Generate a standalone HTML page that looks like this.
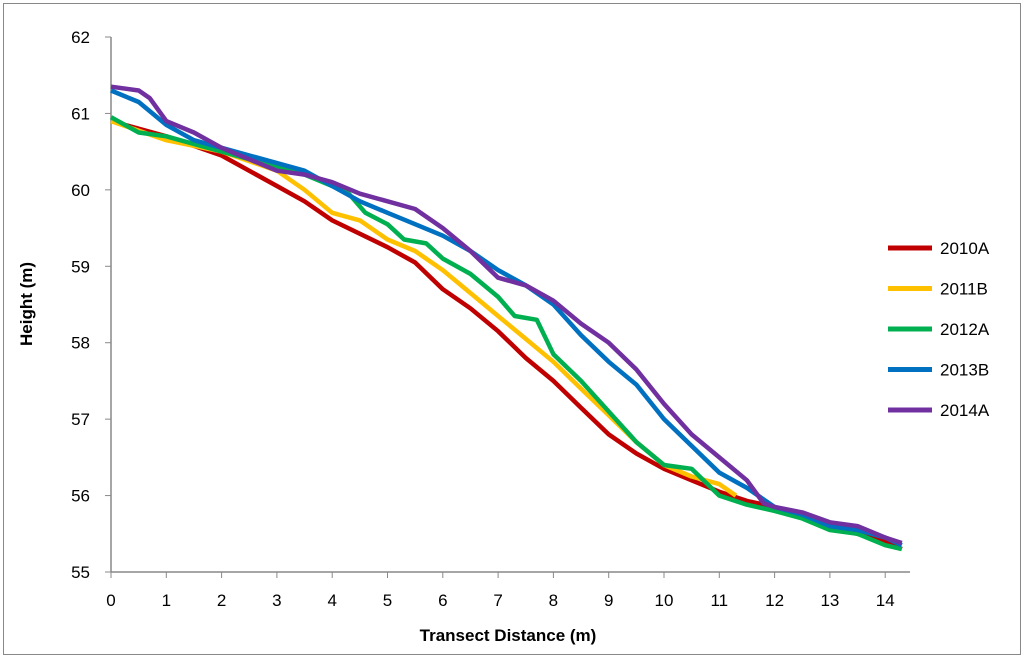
<!DOCTYPE html>
<html><head><meta charset="utf-8"><style>
body{margin:0;background:#fff;font-family:"Liberation Sans",sans-serif}
svg text{font-family:"Liberation Sans",sans-serif}
</style></head><body>
<svg id="chart" width="1024" height="658">
<rect x="3.5" y="3.5" width="1017" height="651" fill="#fff" stroke="#888"/>
<g id="axes"></g><g id="series"></g><g id="legend"></g>
</svg>
<script>
const xTicks=[0,1,2,3,4,5,6,7,8,9,10,11,12,13,14];
const yTicks=[55,56,57,58,59,60,61,62];
const seriesNames=["2010A","2011B","2012A","2013B","2014A"];
const seriesColors=["#c00000","#ffc000","#00b050","#0070c0","#7030a0"];
const x2010A=[0,1,2,3,3.5,4,5,5.5,6,6.5,7,7.5,8,8.5,9,9.5,10,10.5,11,11.5,12,12.5,13,13.5,14,14.3];
const y2010A=[60.9,60.7,60.45,60.05,59.85,59.6,59.25,59.05,58.7,58.45,58.15,57.8,57.5,57.15,56.8,56.55,56.35,56.2,56.05,55.93,55.85,55.75,55.6,55.5,55.4,55.3];
const x2011B=[0,1,2,3,3.5,4,4.5,5,5.5,6,6.5,7,7.5,8,8.5,9,9.5,10,10.5,11,11.3];
const y2011B=[60.9,60.65,60.5,60.25,60.0,59.7,59.6,59.35,59.2,58.95,58.65,58.35,58.05,57.75,57.4,57.05,56.7,56.4,56.25,56.15,56.0];
const x2012A=[0,0.5,1,1.5,2,3,3.5,4,4.3,4.6,5,5.3,5.7,6,6.5,7,7.3,7.7,8,8.5,9,9.5,10,10.5,11,11.5,12,12.5,13,13.5,14,14.3];
const y2012A=[60.95,60.75,60.7,60.6,60.5,60.3,60.2,60.05,59.95,59.7,59.55,59.35,59.3,59.1,58.9,58.6,58.35,58.3,57.85,57.5,57.1,56.7,56.4,56.35,56.0,55.88,55.8,55.7,55.55,55.5,55.35,55.3];
const x2013B=[0,0.5,1,1.5,2,3,3.5,4,4.5,5,5.5,6,6.5,7,7.5,8,8.5,9,9.5,10,10.5,11,11.5,12,12.5,13,13.5,14,14.3];
const y2013B=[61.3,61.15,60.85,60.65,60.55,60.35,60.25,60.05,59.85,59.7,59.55,59.4,59.2,58.95,58.75,58.5,58.1,57.75,57.45,57.0,56.65,56.3,56.1,55.85,55.75,55.6,55.55,55.45,55.35];
const x2014A=[0,0.5,0.7,1,1.5,2,2.5,3,3.5,4,4.5,5,5.5,6,6.5,7,7.5,8,8.5,9,9.5,10,10.5,11,11.5,11.8,12,12.5,13,13.5,14,14.3];
const y2014A=[61.35,61.3,61.2,60.9,60.75,60.55,60.4,60.25,60.2,60.1,59.95,59.85,59.75,59.5,59.2,58.85,58.75,58.55,58.25,58.0,57.65,57.2,56.8,56.5,56.2,55.9,55.85,55.78,55.65,55.6,55.45,55.38];
const xs=[x2010A,x2011B,x2012A,x2013B,x2014A], ys=[y2010A,y2011B,y2012A,y2013B,y2014A];
const NS="http://www.w3.org/2000/svg";
const X=v=>111+v*55.3, Y=v=>572-(v-55)*76.43;
function mk(t,a,p){const e=document.createElementNS(NS,t);for(const k in a)e.setAttribute(k,a[k]);p.appendChild(e);return e;}
const ax=document.getElementById('axes');
let l=mk('line',{x1:111,y1:37,x2:111,y2:572,stroke:'#888','stroke-width':1.5},ax);


l=mk('line',{x1:111,y1:572,x2:910,y2:572,stroke:'#888','stroke-width':1.5},ax);


yTicks.forEach(v=>{mk('line',{x1:105,x2:111,y1:Y(v),y2:Y(v),stroke:'#888'},ax);
const t=mk('text',{x:90,y:Y(v)+6,'font-size':17,'text-anchor':'end'},ax);t.textContent=v;

});
xTicks.forEach(v=>{mk('line',{x1:X(v),x2:X(v),y1:572,y2:578,stroke:'#888'},ax);
const t=mk('text',{x:X(v),y:606,'font-size':17,'text-anchor':'middle'},ax);t.textContent=v;

});
let t=mk('text',{x:508,y:641,'font-size':17,'font-weight':'bold','text-anchor':'middle'},ax);t.textContent='Transect Distance (m)';


t=mk('text',{x:0,y:0,'font-size':17,'font-weight':'bold','text-anchor':'middle',transform:'translate(32,304) rotate(-90)'},ax);t.textContent='Height (m)';


const sg=document.getElementById('series'),lg=document.getElementById('legend');
seriesNames.forEach((n,i)=>{
const d=xs[i].map((x,j)=>(j?'L':'M')+X(x).toFixed(1)+','+Y(ys[i][j]).toFixed(1)).join('');
const p=mk('path',{d:d,fill:'none',stroke:seriesColors[i],'stroke-width':4.5,'stroke-linejoin':'round'},sg);


const yy=248+i*40.5;
const ll=mk('line',{x1:888,x2:932,y1:yy,y2:yy,stroke:seriesColors[i],'stroke-width':5},lg);


const tt=mk('text',{x:940,y:yy+6,'font-size':17},lg);tt.textContent=n;


});
</script>
</body></html>
